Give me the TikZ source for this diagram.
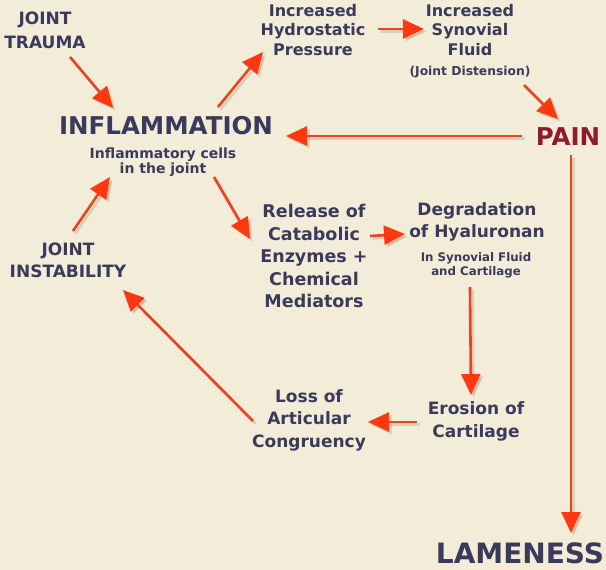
\documentclass[tikz,border=0pt]{standalone}
\usepackage{fontspec}
\setmainfont{DejaVu Sans}
\usetikzlibrary{arrows.meta}
\definecolor{bg}{HTML}{F2ECD8}
\definecolor{ink}{HTML}{3A3A5C}
\definecolor{painred}{HTML}{8E1B2B}
\definecolor{arrline}{HTML}{E8441E}
\definecolor{arrhead}{HTML}{FF3810}
\definecolor{shad}{HTML}{7A6A50}
\newcommand\fsz[2]{\fontsize{#1}{#2}\selectfont}
\tikzset{
 lbl/.style 2 args={text=ink, font=\bfseries\fsz{#1}{#2}, align=center, inner sep=0pt},
 flow/.style={draw=arrline, line width=2.6pt, -{Triangle[length=21pt,width=19pt,color=arrhead,fill=arrhead]}},
 flowshadow/.style={draw=shad, opacity=0.22, line width=2.6pt, -{Triangle[length=21pt,width=19pt,color=shad,fill=shad]}},
}
\newcommand\flowarrow[2]{%
  \draw[flowshadow,transform canvas={shift={(2.5pt,-2.5pt)}}] (#1) -- (#2);
  \draw[flow] (#1) -- (#2);}
\begin{document}
\begin{tikzpicture}[x=1pt,y=-1pt]
\fill[bg] (0,0) rectangle (606,570);
\useasboundingbox (0,0) rectangle (606,570);

% nodes
\node[lbl={17}{24}] (trauma) at (45,30) {JOINT\\TRAUMA};
\node[lbl={24.5}{28}] (inflam) at (166,126) {INFLAMMATION};
\node[lbl={14}{15.5}] (inflsub) at (163,162) {Inflammatory cells\\in the joint};
\node[lbl={16}{19.5}] (hydro) at (313,30) {Increased\\Hydrostatic\\Pressure};
\node[lbl={16}{19.5}] (synov) at (470,30) {Increased\\Synovial\\Fluid};
\node[lbl={12.3}{14}] (disten) at (470,72) {(Joint Distension)};
\node[lbl={24.5}{28},text=painred] (pain) at (568,137) {PAIN};
\node[lbl={17.5}{22.5}] (release) at (314,256) {Release of\\Catabolic\\Enzymes +\\Chemical\\Mediators};
\node[lbl={17}{22}] (degrad) at (477,222) {Degradation\\of Hyaluronan};
\node[lbl={11.8}{14}] (degsub) at (476,265) {In Synovial Fluid\\and Cartilage};
\node[lbl={17}{23}] (erosion) at (476,421) {Erosion of\\Cartilage};
\node[lbl={17}{22.5}] (loss) at (309,420) {Loss of\\Articular\\Congruency};
\node[lbl={17}{22}] (instab) at (68,260) {JOINT\\INSTABILITY};
\node[lbl={28}{32}] (lame) at (520,553) {LAMENESS};

% connector ends
\coordinate (trauma-out) at (70,57);   \coordinate (inflam-in1) at (113,108);
\coordinate (inflam-out1) at (218,107); \coordinate (hydro-in) at (263,52);
\coordinate (hydro-out) at (378,29);   \coordinate (synov-in) at (424,29);
\coordinate (disten-out) at (524,85);  \coordinate (pain-in) at (558,119);
\coordinate (pain-out1) at (522,136);  \coordinate (inflam-in2) at (286,136);
\coordinate (pain-out2) at (571,155);  \coordinate (lame-in) at (571,533);
\coordinate (inflsub-out) at (214,177); \coordinate (release-in) at (250,239);
\coordinate (release-out) at (370,236); \coordinate (degrad-in) at (405,234);
\coordinate (degsub-out) at (470,287); \coordinate (erosion-in) at (471,395);
\coordinate (erosion-out) at (417,422); \coordinate (loss-in) at (368,422);
\coordinate (loss-out) at (253,421);   \coordinate (instab-in) at (123,290);
\coordinate (instab-out) at (73,231);  \coordinate (inflsub-in) at (110,177);

\flowarrow{trauma-out}{inflam-in1}
\flowarrow{inflam-out1}{hydro-in}
\flowarrow{hydro-out}{synov-in}
\flowarrow{disten-out}{pain-in}
\flowarrow{pain-out1}{inflam-in2}
\flowarrow{pain-out2}{lame-in}
\flowarrow{inflsub-out}{release-in}
\flowarrow{release-out}{degrad-in}
\flowarrow{degsub-out}{erosion-in}
\flowarrow{erosion-out}{loss-in}
\flowarrow{loss-out}{instab-in}
\flowarrow{instab-out}{inflsub-in}
\end{tikzpicture}
\end{document}
